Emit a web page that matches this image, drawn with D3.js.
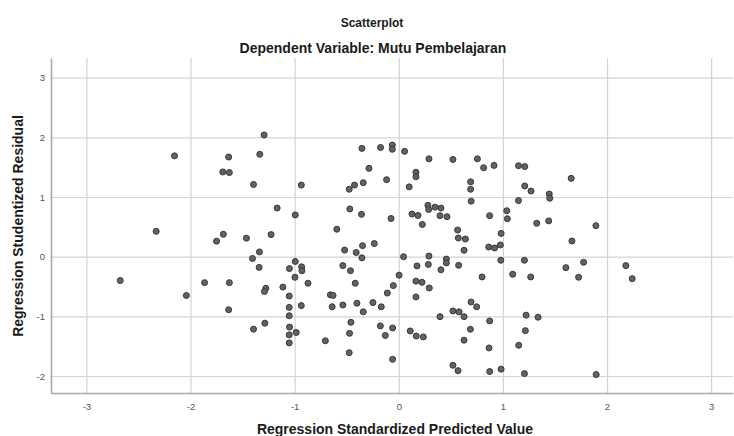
<!DOCTYPE html>
<html>
<head>
<meta charset="utf-8">
<script src="https://cdn.jsdelivr.net/npm/d3@7"></script>
<style>
  html, body { margin: 0; padding: 0; background: #fff; }
  svg { display: block; font-family: "Liberation Sans", Arial, sans-serif; }
</style>
</head>
<body>
<svg id="chart" width="734" height="436"></svg>
<script>
// ---- Data ----
const title = "Scatterplot";
const subtitle = "Dependent Variable: Mutu Pembelajaran";
const xTitle = "Regression Standardized Predicted Value";
const yTitle = "Regression Studentized Residual";

const xTicks = [-3, -2, -1, 0, 1, 2, 3];
const yTicks = [-2, -1, 0, 1, 2, 3];

// Regression standardized predicted values
const predicted = [
  -2.154, -2.33, -1.634, -1.69, -1.627, -1.75, -1.685,
  -2.675, -2.04, -1.865, -1.627, -1.634,
  -1.293, -1.335, -1.395, -0.936, -0.354, -0.175, -0.062, -0.062, -0.286, -0.117, -0.341, -0.425, -0.476,
  -1.168, -0.47, -0.994, -0.358, -0.074, -1.463, -1.226, -0.595, -1.338, -0.52, -0.409, -0.348, -0.235,
  -1.405, -0.994, -1.05, -0.933, -0.93, -1.341, -0.997, -0.872, -1.113, -1.277, -1.29, -1.052, -1.052,
  -0.936, -1.052, -1.286, -1.395, -1.049, -0.985, -1.052, -1.052, -0.705, -0.657, -0.631, -0.64, -0.537,
  -0.537, -0.464, -0.418, -0.402, -0.341, -0.248, -0.168, -0.11, -0.052, 0.003, -0.46, -0.473, -0.476,
  -0.177, -0.059, -0.129, -0.059, -0.354,
  0.056, 0.29, 0.52, 0.755, 0.815, 0.915, 1.15, 1.21, 0.165, 0.165, 0.10, 0.69, 0.69, 0.695, 1.21, 1.27,
  1.445, 1.45, 1.15, 0.28, 0.287, 0.348, 0.405, 0.127, 0.185, 0.396, 0.463, 0.226, 0.873, 1.037, 1.043,
  1.325, 1.44, 0.565, 0.572, 0.64, 0.983, 0.627, 0.864, 0.92, 0.976,
  0.046, 0.29, 0.457, 0.457, 0.98, 1.207, 0.175, 0.284, 0.405, 0.575, 0.80, 1.094, 1.267, 0.165, 0.223,
  0.293, 0.165, 0.694, 0.748, 0.52, 0.579, 0.627, 0.396, 0.873, 1.223, 1.338, 0.688, 1.216, 0.11, 0.168,
  0.236, 0.627, 1.152, 0.867, 0.52, 0.569, 0.873, 0.983, 1.207,
  1.656, 1.893, 1.663, 1.605, 1.775, 1.727, 2.181, 2.242, 1.896
];

// Regression studentized residuals (same order)
const residual = [
  1.69, 0.425, 1.67, 1.42, 1.41, 0.26, 0.375,
  -0.40, -0.65, -0.435, -0.435, -0.89,
  2.04, 1.715, 1.21, 1.20, 1.815, 1.83, 1.87, 1.80, 1.48, 1.29, 1.24, 1.20, 1.13,
  0.815, 0.80, 0.70, 0.71, 0.64, 0.31, 0.37, 0.46, 0.08, 0.11, 0.07, 0.185, 0.22,
  -0.03, -0.08, -0.20, -0.17, -0.235, -0.18, -0.345, -0.445, -0.51, -0.53, -0.585, -0.66, -0.85,
  -0.82, -0.99, -1.115, -1.215, -1.18, -1.27, -1.31, -1.445, -1.41, -0.64, -0.65, -0.84, -0.81,
  -0.15, -0.235, -0.445, -0.78, -0.925, -0.77, -0.84, -0.61, -0.485, -0.31, -1.10, -1.285, -1.61,
  -1.16, -1.195, -1.32, -1.72, -0.02,
  1.765, 1.64, 1.63, 1.64, 1.49, 1.53, 1.525, 1.51, 1.415, 1.34, 1.17, 1.255, 1.13, 0.93, 1.185, 1.10,
  1.05, 0.98, 0.94, 0.86, 0.79, 0.83, 0.815, 0.715, 0.69, 0.687, 0.67, 0.54, 0.687, 0.77, 0.636,
  0.56, 0.60, 0.447, 0.313, 0.296, 0.39, 0.107, 0.162, 0.146, 0.196,
  0.0, 0.01, -0.04, -0.105, -0.06, -0.06, -0.155, -0.13, -0.22, -0.145, -0.34, -0.295, -0.34, -0.41, -0.43,
  -0.525, -0.675, -0.76, -0.84, -0.91, -0.925, -1.005, -1.005, -1.077, -0.98, -1.015, -1.217, -1.24, -1.245, -1.33,
  -1.345, -1.40, -1.485, -1.53, -1.82, -1.91, -1.925, -1.885, -1.96,
  1.313, 0.52, 0.263, -0.184, -0.094, -0.345, -0.15, -0.368, -1.976
];

// ---- Layout ----
const svg = d3.select("#chart");
const plot = { left: 51, right: 733, top: 58, bottom: 393 };

const x = d3.scaleLinear().domain([-3.34, 3.21]).range([plot.left, plot.right]);
const y = d3.scaleLinear().domain([-2.285, 3.33]).range([plot.bottom, plot.top]);

const fmt = d => String(d); // plain hyphen-minus as in the reference

// Grid lines
const gx = svg.append("g")
  .attr("transform", `translate(0,${plot.bottom})`)
  .call(d3.axisBottom(x).tickValues(xTicks).tickSize(-(plot.bottom - plot.top)).tickFormat(""));
gx.select(".domain").remove();
gx.selectAll(".tick line").attr("stroke", "#d3d3d3").attr("stroke-width", 1.2);

const gy = svg.append("g")
  .attr("transform", `translate(${plot.left},0)`)
  .call(d3.axisLeft(y).tickValues(yTicks).tickSize(-(plot.right - plot.left)).tickFormat(""));
gy.select(".domain").remove();
gy.selectAll(".tick line").attr("stroke", "#d3d3d3").attr("stroke-width", 1.2);

// Axis lines and tick labels
const axX = svg.append("g")
  .attr("transform", `translate(0,${plot.bottom})`)
  .call(d3.axisBottom(x).tickValues(xTicks).tickSize(0).tickPadding(10).tickFormat(fmt));
axX.select(".domain").attr("stroke", "#a9a9a9").attr("stroke-width", 1.6);
axX.selectAll("text").attr("font-size", "9.5px").attr("fill", "#555")
  .attr("font-family", "'Liberation Sans', Arial, sans-serif");

const axY = svg.append("g")
  .attr("transform", `translate(${plot.left},0)`)
  .call(d3.axisLeft(y).tickValues(yTicks).tickSize(0).tickPadding(6).tickFormat(fmt));
axY.select(".domain").attr("stroke", "#a9a9a9").attr("stroke-width", 1.6);
axY.selectAll("text").attr("font-size", "9.5px").attr("fill", "#555")
  .attr("font-family", "'Liberation Sans', Arial, sans-serif");

// Points
const pts = predicted.map((v, i) => ({ x: v, y: residual[i] }));
svg.append("g").selectAll("circle")
  .data(pts)
  .join("circle")
  .attr("cx", d => x(d.x))
  .attr("cy", d => y(d.y))
  .attr("r", 3)
  .attr("fill", "#626262")
  .attr("stroke", "#383838")
  .attr("stroke-width", 1);

// Titles
svg.append("text")
  .attr("x", 372).attr("y", 27)
  .attr("text-anchor", "middle")
  .attr("font-size", "12px").attr("font-weight", "bold").attr("fill", "#1a1a1a")
  .text(title);

svg.append("text")
  .attr("x", 373).attr("y", 53)
  .attr("text-anchor", "middle")
  .attr("font-size", "14px").attr("font-weight", "bold").attr("fill", "#1a1a1a")
  .text(subtitle);

svg.append("text")
  .attr("x", 395).attr("y", 434)
  .attr("text-anchor", "middle")
  .attr("font-size", "14px").attr("font-weight", "bold").attr("fill", "#1a1a1a")
  .text(xTitle);

svg.append("text")
  .attr("transform", "translate(23,226) rotate(-90)")
  .attr("text-anchor", "middle")
  .attr("font-size", "14px").attr("font-weight", "bold").attr("fill", "#1a1a1a")
  .text(yTitle);
</script>
</body>
</html>
